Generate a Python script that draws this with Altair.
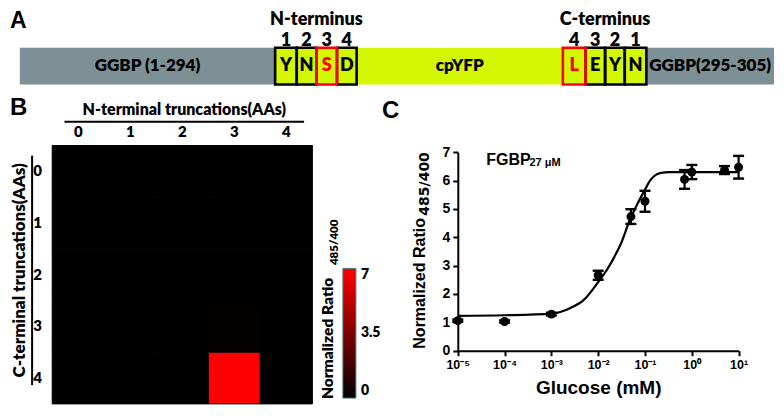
import altair as alt
import pandas as pd
from itertools import accumulate

W, H = 768, 400


def PX(r):
    return round((r - 2) * 0.982, 1)


def PY(r):
    return round((r - 6) * 0.968, 1)


CAL = "Lato"
ARIAL = "Liberation Sans"
GRAY = "#7d9096"
YELLOW = "#d2f700"
RED = "#ff0000"
HEAVY = 800

# ---------------- Panel A: construct schematic ----------------
seg_labels = ["GGBP (1-294)", "Y", "N", "S", "D", "cpYFP", "L", "E", "Y", "N", "GGBP(295-305)"]
seg_widths = [260, 22, 20, 21, 20, 210, 23, 20, 20, 22, 130]
seg_kinds = ["GGBP", "box", "box", "box", "box", "cpYFP", "box", "box", "box", "box", "GGBP"]
seg_hit = ["no", "no", "no", "yes", "no", "no", "yes", "no", "no", "no", "no"]
seg_numbers = ["", "1", "2", "3", "4", "", "4", "3", "2", "1", ""]
seg_terminus = ["", "N-terminus", "N-terminus", "N-terminus", "N-terminus", "",
                "C-terminus", "C-terminus", "C-terminus", "C-terminus", ""]

# ---------------- Panel B: truncation heatmap ----------------
nterm_cols = ["0", "1", "2", "3", "4"]
cterm_rows = ["0", "1", "2", "3", "4"]
ratio_matrix = [
    [0.0, 0.0, 0.0, 0.0, 0.0],
    [0.0, 0.0, 0.0, 0.0, 0.0],
    [0.0, 0.0, 0.0, 0.0, 0.0],
    [0.0, 0.0, 0.0, 0.12, 0.0],
    [0.0, 0.0, 0.0, 7.0, 0.0],
]
legend_values = [0, 3.5, 7]

# ---------------- Panel C: glucose titration ----------------
glucose_mM = [1e-5, 1e-4, 1e-3, 1e-2, 0.05, 0.1, 0.7, 1, 5, 10]
ratio_mean = [1.06, 1.03, 1.29, 2.66, 4.73, 5.27, 6.04, 6.30, 6.37, 6.47]
ratio_err = [0.04, 0.04, 0.05, 0.16, 0.26, 0.37, 0.33, 0.25, 0.14, 0.40]
fit_glucose = [1e-5, 1e-4, 1e-3, 2.5e-3, 5e-3, 1e-2, 1.6e-2, 2.2e-2, 3.2e-2, 4.7e-2,
               7e-2, 0.1, 0.126, 0.16, 0.22, 0.32, 1, 10]
fit_ratio = [1.23, 1.25, 1.31, 1.50, 1.80, 2.42, 2.90, 3.30, 3.85, 4.60,
             5.20, 5.68, 5.98, 6.17, 6.27, 6.30, 6.30, 6.30]
glucose_ticks = [1e-5, 1e-4, 1e-3, 1e-2, 1e-1, 1, 10]

# ======================= build panel A =======================
ends = list(accumulate(seg_widths))
starts = [e - w for e, w in zip(ends, seg_widths)]
dfA = pd.DataFrame({
    "label": seg_labels, "kind": seg_kinds, "hit": seg_hit,
    "number": seg_numbers, "terminus": seg_terminus,
    "start": starts, "end": ends,
})
dfA["mid"] = (dfA["start"] + dfA["end"]) / 2
dfTerm = dfA[dfA.terminus != ""].groupby("terminus", as_index=False)["mid"].mean()


def hitScale():
    return alt.Scale(domain=["no", "yes"], range=["black", RED])


def XA(field):
    return alt.X(field, type="quantitative",
                 scale=alt.Scale(domain=[0, sum(seg_widths)], range=[PX(14), PX(782)]),
                 axis=None)


def YA(v):
    return alt.YDatum(v, type="quantitative",
                      scale=alt.Scale(domain=[0, 1], range=[PY(85), PY(47)]), axis=None)


barsA = alt.Chart(dfA).mark_rect().encode(
    x=XA("start"), x2="end", y=YA(0), y2=alt.datum(1),
    fill=alt.Fill("kind:N", scale=alt.Scale(domain=["GGBP", "cpYFP", "box"],
                                            range=[GRAY, YELLOW, YELLOW]), legend=None),
)
boxBlack = alt.Chart(dfA[(dfA.kind == "box") & (dfA.hit == "no")]).mark_rect(
    filled=False, strokeWidth=2.6).encode(
    x=XA("start"), x2="end", y=YA(0), y2=alt.datum(1),
    color=alt.Color("hit:N", scale=hitScale(), legend=None))
boxRed = alt.Chart(dfA[(dfA.kind == "box") & (dfA.hit == "yes")]).mark_rect(
    filled=False, strokeWidth=2.6).encode(
    x=XA("start"), x2="end", y=YA(0), y2=alt.datum(1),
    color=alt.Color("hit:N", scale=hitScale(), legend=None))
ggbpText = alt.Chart(dfA[dfA.kind != "box"]).mark_text(
    font=CAL, fontWeight=HEAVY, fontSize=17, baseline="middle", color="black").encode(
    x=XA("mid"), y=YA(0.5), text="label:N")
boxText = alt.Chart(dfA[dfA.kind == "box"]).mark_text(
    font=CAL, fontWeight=HEAVY, fontSize=18, baseline="middle").encode(
    x=XA("mid"), y=YA(0.5), text="label:N",
    color=alt.Color("hit:N", scale=hitScale(), legend=None))
numText = alt.Chart(dfA[dfA.number != ""]).mark_text(
    font=CAL, fontWeight=HEAVY, fontSize=18, baseline="middle", color="black").encode(
    x=XA("mid"), y=YA(1.17), text="number:N")
termText = alt.Chart(dfTerm).mark_text(
    font=CAL, fontWeight=HEAVY, fontSize=18, baseline="middle", color="black").encode(
    x=XA("mid"), y=YA(1.74), text="terminus:N")
panelA = [barsA, boxBlack, boxRed, ggbpText, boxText, numText, termText]

# ======================= build panel B =======================
dfB = pd.DataFrame([
    {"nterm": c, "cterm": r, "ratio": ratio_matrix[i][j]}
    for i, r in enumerate(cterm_rows) for j, c in enumerate(nterm_cols)
])


def XB():
    return alt.Scale(domain=nterm_cols, range=[PX(47), PX(312)], paddingInner=0, paddingOuter=0)


def YB():
    return alt.Scale(domain=cterm_rows, range=[PY(148), PY(415)], paddingInner=0, paddingOuter=0)


heat = alt.Chart(dfB).mark_rect(stroke="black", strokeWidth=1).encode(
    x=alt.X("nterm:O", scale=XB(), axis=None),
    y=alt.Y("cterm:O", scale=YB(), axis=None),
    color=alt.Color("ratio:Q",
                    scale=alt.Scale(domain=[0, 7], range=["#000000", RED], interpolate="rgb"),
                    legend=alt.Legend(orient="none", legendX=PX(343), legendY=PY(275),
                                      direction="vertical", title=None,
                                      gradientLength=PY(409) - PY(275), gradientThickness=13,
                                      gradientStrokeColor="#3f7f80", gradientStrokeWidth=1,
                                      values=legend_values, format=".2~g",
                                      labelFont=CAL, labelFontSize=14, labelFontWeight=HEAVY,
                                      labelColor="black", labelOffset=5, padding=0)),
)
colLabels = alt.Chart(pd.DataFrame({"nterm": nterm_cols})).mark_text(
    font=CAL, fontWeight=HEAVY, fontSize=15, baseline="middle", color="black").encode(
    x=alt.X("nterm:O", scale=XB(), axis=None), y=alt.value(PY(134)), text="nterm:N")
rowLabels = alt.Chart(pd.DataFrame({"cterm": cterm_rows})).mark_text(
    font=CAL, fontWeight=HEAVY, fontSize=15, baseline="middle", color="black").encode(
    y=alt.Y("cterm:O", scale=YB(), axis=None), x=alt.value(PX(32)), text="cterm:N")

hdrTop = alt.Chart(pd.DataFrame({"nterm": nterm_cols})).mark_text(opacity=0).encode(
    x=alt.X("nterm:N", scale=alt.Scale(domain=nterm_cols, range=[PX(59), PX(303)]),
            axis=alt.Axis(orient="top", offset=-PY(123), labels=False, ticks=False,
                          grid=False, domainColor="black", domainWidth=2,
                          title="N-terminal truncations(AAs)", titleFont=CAL,
                          titleFontSize=16, titleFontWeight=HEAVY, titleColor="black",
                          titlePadding=4)),
    text="nterm:N")
hdrLeft = alt.Chart(pd.DataFrame({"cterm": cterm_rows})).mark_text(opacity=0).encode(
    y=alt.Y("cterm:N", scale=alt.Scale(domain=cterm_rows, range=[PY(158), PY(395)]),
            axis=alt.Axis(orient="left", offset=-(PX(22) + 4), labels=False, ticks=False,
                          grid=False, domainColor="black", domainWidth=2,
                          title="C-terminal truncations(AAs)", titleFont=CAL,
                          titleFontSize=17, titleFontWeight=HEAVY, titleColor="black",
                          titlePadding=3)),
    text="cterm:N")
panelB = [heat, colLabels, rowLabels, hdrTop, hdrLeft]

# ======================= build panel C =======================
dfC = pd.DataFrame({"glucose": glucose_mM, "ratio": ratio_mean})
dfC["lo"] = dfC["ratio"] - pd.Series(ratio_err)
dfC["hi"] = dfC["ratio"] + pd.Series(ratio_err)
dfFit = pd.DataFrame({"glucose": fit_glucose, "ratio": fit_ratio})


def XC(axis=None):
    return alt.X("glucose:Q", axis=axis,
                 scale=alt.Scale(type="log", domain=[1e-5, 10], range=[PX(460), PX(746)],
                                 nice=False))


def YC(field, axis=None):
    return alt.Y(field, type="quantitative", axis=axis,
                 scale=alt.Scale(domain=[0, 7], range=[PY(360), PY(155)], nice=False,
                                 zero=False))


expo = "round(log(datum.value)/LN10)"
xAxisC = alt.Axis(orient="bottom", offset=PY(360) - H, values=glucose_ticks,
                  labelExpr="'10' + (" + expo + " < 0 ? '⁻' : '') + substring('⁰¹²³⁴⁵⁶⁷⁸⁹', abs("
                            + expo + "), abs(" + expo + ") + 1)",
                  grid=False, domainColor="black", domainWidth=2, tickColor="black",
                  tickWidth=2, tickSize=5, labelFont=ARIAL, labelFontSize=12.5,
                  labelFontWeight="bold", labelColor="black", labelPadding=3, labelFlush=False,
                  title="Glucose (mM)", titleFont=ARIAL, titleFontSize=19,
                  titleFontWeight="bold", titleColor="black", titlePadding=7)
yAxisC = alt.Axis(orient="left", offset=-PX(460), values=list(range(8)), grid=False,
                  domainColor="black", domainWidth=2, tickColor="black", tickWidth=2,
                  tickSize=5, labelFont=ARIAL, labelFontSize=14, labelFontWeight="bold",
                  labelColor="black", labelPadding=3, title=None)

fitLine = alt.Chart(dfFit).mark_line(color="black", strokeWidth=2.2,
                                     interpolate="monotone").encode(
    x=XC(), y=YC("ratio"))
errRule = alt.Chart(dfC).mark_rule(color="black", strokeWidth=2.2).encode(
    x=XC(), y=YC("lo"), y2="hi:Q")
capLo = alt.Chart(dfC).mark_tick(orient="horizontal", size=11, thickness=2.4, color="black",
                                 opacity=1).encode(x=XC(), y=YC("lo"))
capHi = alt.Chart(dfC).mark_tick(orient="horizontal", size=11, thickness=2.4, color="black",
                                 opacity=1).encode(x=XC(), y=YC("hi"))
points = alt.Chart(dfC).mark_circle(size=80, color="black", opacity=1).encode(
    x=XC(xAxisC), y=YC("ratio", yAxisC))
panelC = [fitLine, errRule, capLo, capHi, points]


# ======================= free text =======================
def label(txt, x, y, size, font=ARIAL, angle=0, align="left", baseline="alphabetic",
          weight="bold"):
    return alt.Chart(pd.DataFrame({"t": [txt]})).mark_text(
        x=x, y=y, fontSize=size, font=font, fontWeight=weight, angle=angle,
        align=align, baseline=baseline, color="black").encode(text="t:N")


texts = [
    label("A", 2, 2, 23, baseline="top"),
    label("B", 2, PY(117), 24),
    label("C", PX(383), PY(120), 24),
    label("FGBP", PX(489), PY(168), 16),
    label("27 μM", PX(533), PY(168) + 1, 11),
    label("Normalized Ratio", PX(421), PY(358), 16, angle=270, baseline="middle"),
    label("485/400", PX(427), PY(358) - 133, 14, font="DejaVu Sans", angle=270,
          baseline="middle"),
    label("Normalized Ratio", PX(328), PY(410), 15.5, font=CAL, angle=270, baseline="middle",
          weight=HEAVY),
    label("485/400", PX(335), PY(410) - 134, 11.5, font=CAL, angle=270, baseline="middle",
          weight=HEAVY),
]

chart = alt.layer(*panelA, *panelB, *panelC, *texts).resolve_scale(
    x="independent", y="independent", color="independent", fill="independent"
).properties(
    width=W, height=H, padding=0, background="white",
    autosize=alt.AutoSizeParams(type="none"),
).configure_view(stroke=None)

chart.save("out.html", embed_options={"renderer": "svg", "actions": False})
